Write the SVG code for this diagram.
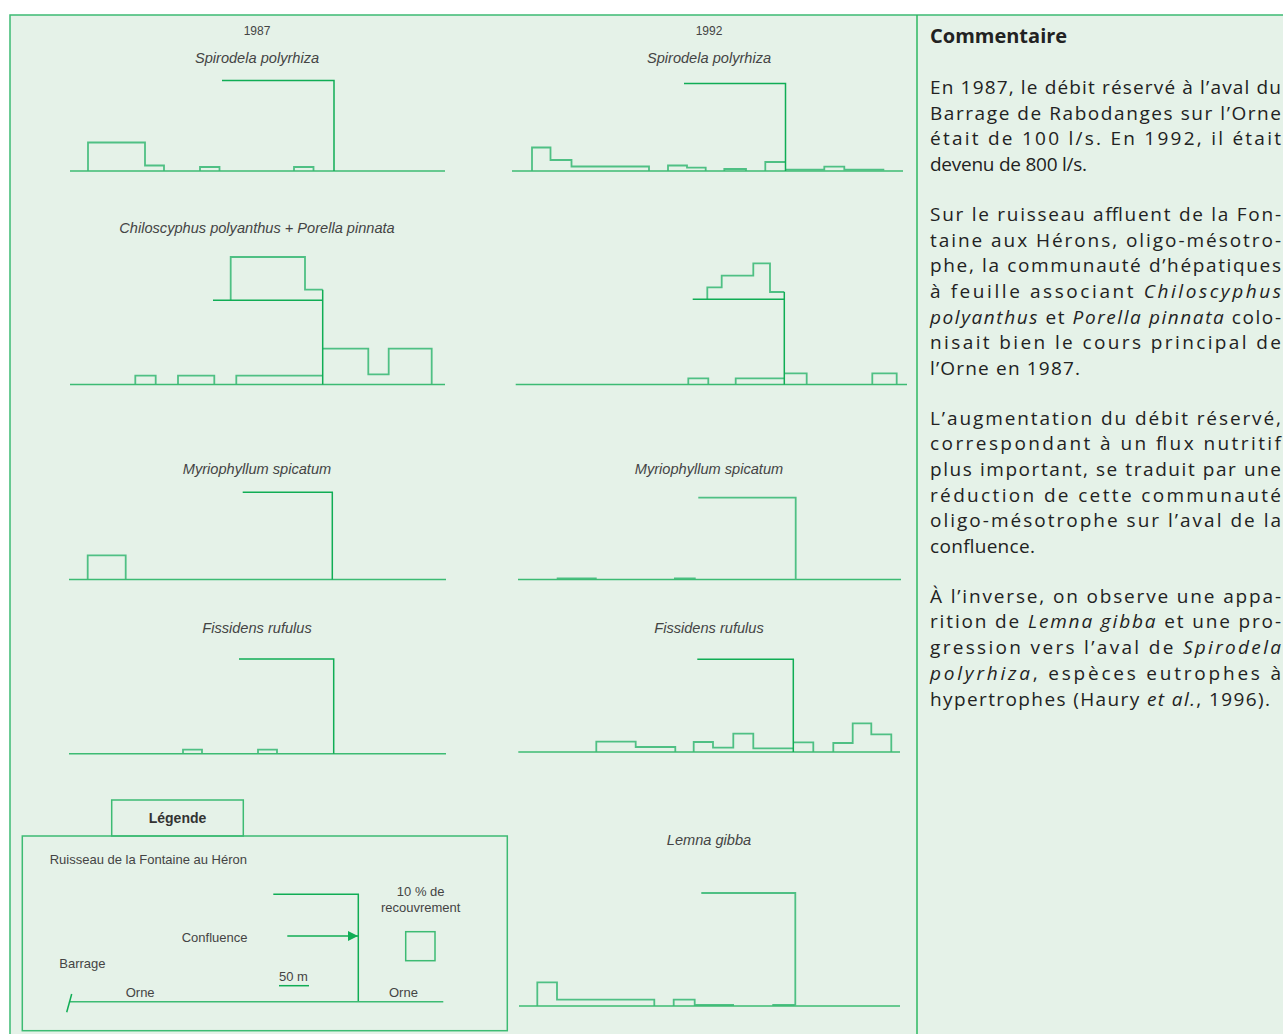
<svg xmlns="http://www.w3.org/2000/svg" width="1283" height="1034" viewBox="0 0 1283 1034">
<defs>
<style>
.frame{fill:#e5f2e8;stroke:#3dbb73;stroke-width:1.5}
.div{stroke:#2db862;stroke-width:1.5}
.base{stroke:#3dbb73;stroke-width:1.6;fill:none}
.ref{stroke:#10ad55;stroke-width:1.5;fill:none}
.hist{stroke:#4fc084;stroke-width:1.8;fill:none}
.yr{font-family:"Liberation Sans",Arial,sans-serif;font-size:12px;fill:#444;text-anchor:middle}
.sp{font-family:"Liberation Sans",Arial,sans-serif;font-size:14.6px;font-style:italic;fill:#444;text-anchor:middle}
.lg{font-family:"Liberation Sans",Arial,sans-serif;font-size:13px;fill:#444}
.lgb{font-family:"Liberation Sans",Arial,sans-serif;font-size:14px;font-weight:bold;fill:#333;text-anchor:middle}
.ct{font-family:"Open Sans","Noto Sans",sans-serif;font-size:19px;fill:#222}
.ch{font-family:"Open Sans","Noto Sans",sans-serif;font-size:20px;font-weight:bold;fill:#222}
.it{font-style:italic}
</style>
<marker id="arr" viewBox="0 0 10 10" refX="10" refY="5" markerWidth="10" markerHeight="10" markerUnits="userSpaceOnUse" orient="auto">
<path d="M0 0 L10 5 L0 10 Z" fill="#10ad55"/>
</marker>
</defs>
<rect x="0" y="0" width="1283" height="1034" fill="#ffffff"/>
<rect class="frame" x="10" y="15" width="1290" height="1030"/>
<line class="div" x1="917" y1="15" x2="917" y2="1034"/>

<g id="labels">
<text class="yr" x="257" y="35">1987</text>
<text class="yr" x="709" y="35">1992</text>
<text class="sp" x="257" y="63">Spirodela polyrhiza</text>
<text class="sp" x="709" y="63">Spirodela polyrhiza</text>
<text class="sp" x="257" y="233">Chiloscyphus polyanthus + Porella pinnata</text>
<text class="sp" x="257" y="474">Myriophyllum spicatum</text>
<text class="sp" x="709" y="474">Myriophyllum spicatum</text>
<text class="sp" x="257" y="633">Fissidens rufulus</text>
<text class="sp" x="709" y="633">Fissidens rufulus</text>
<text class="sp" x="709" y="845">Lemna gibba</text>
</g>

<g id="chart-spirodela-1987">
<path class="hist" d="M88 171 V142.5 H145 V165.5 H164 V171 M200 171 V167 H219.5 V171 M294 171 V167 H313.5 V171"/>
<path class="base" d="M70 171 H445"/>
<path class="ref" d="M222 80.5 H334 V171"/>
</g>
<g id="chart-spirodela-1992">
<path class="hist" d="M532 171 V147.5 H550.5 V160 H571.5 V166.5 H649 V171 M668 171 V165.5 H687 V167.7 H705.7 V171 M724.3 171 V169 H746 V171 M765.3 171 V162 H785.3 M785.3 169.7 H824.3 V166.7 H844.3 V169.7 H884.3"/>
<path class="base" d="M512 171 H903"/>
<path class="ref" d="M684 83.5 H785.5 V171"/>
</g>
<g id="chart-chilo-1987">
<path class="hist" d="M230.7 300.3 V257 H305 V289.7 H322.7 M135.3 384.5 V375.7 H155.7 V384.5 M178 384.5 V375.7 H214.3 V384.5 M236.3 384.5 V375.7 H322.7 M322.7 348.7 H368.3 V374.3 H388.7 V348.7 H431.7 V384.5"/>
<path class="base" d="M70 384.5 H445"/>
<path class="ref" d="M213 300.3 H322.7 M322.7 289.7 V384.5"/>
</g>
<g id="chart-chilo-1992">
<path class="hist" d="M707.3 299.3 V287.3 H721.7 V275.7 H753.3 V263.3 H770 V292 H784.3 M688.3 384.5 V378.3 H708.3 V384.5 M735.7 384.5 V378.3 H784.3 M784.3 373.3 H806.7 V384.5 M872.3 384.5 V373.3 H896.7 V384.5"/>
<path class="base" d="M515.7 384.5 H907"/>
<path class="ref" d="M692.7 299.3 H784.3 M784.3 292 V384.5"/>
</g>
<g id="chart-myrio-1987">
<path class="hist" d="M87.7 579.5 V555.3 H125.7 V579.5"/>
<path class="base" d="M69 579.5 H446"/>
<path class="ref" d="M242.7 492.3 H332.3 V579.5"/>
</g>
<g id="chart-myrio-1992">
<path class="hist" d="M556.7 578.3 H596.7 M674 578.3 H695.7"/>
<path class="base" d="M518 579.5 H901"/>
<path class="hist" d="M698.3 497.7 H795.7 V579.5"/>
</g>
<g id="chart-fissidens-1987">
<path class="hist" d="M183 753.7 V749.7 H202 V753.7 M258 753.7 V749.7 H277 V753.7"/>
<path class="base" d="M69 753.7 H446"/>
<path class="ref" d="M239 659 H333.7 V753.7"/>
</g>
<g id="chart-fissidens-1992">
<path class="hist" d="M596.3 752 V741.7 H635.7 V747 H675.3 V752 M693.7 752 V742 H713 V747.7 H733.3 V733.7 H753.3 V748.3 H793.3 M793.3 742.3 H813.3 V752 M833.3 752 V743 H852.7 V723.3 H871.3 V734.3 H891.3 V752"/>
<path class="base" d="M518.3 752 H900"/>
<path class="ref" d="M697.3 659.3 H793.3 V752"/>
</g>
<g id="chart-lemna-1992">
<path class="hist" d="M537.3 1006 V982.3 H557 V999.7 H654.3 V1006 M673.7 1006 V999.7 H694.7 V1005 H734 M772.3 1005 H795.3"/>
<path class="base" d="M519 1006 H900"/>
<path class="hist" d="M701.3 893 H795.3 V1006"/>
</g>

<g id="legend">
<rect x="111.7" y="800" width="131.6" height="36" fill="#e5f2e8" stroke="#3dbb73" stroke-width="1.5"/>
<rect x="22.3" y="836" width="485" height="194.7" fill="none" stroke="#3dbb73" stroke-width="1.5"/>
<text class="lgb" x="177.5" y="823">Légende</text>
<text class="lg" x="49.7" y="864">Ruisseau de la Fontaine au Héron</text>
<path class="ref" d="M273.3 894.3 H358.3 V1001.7"/>
<path class="base" d="M70 1001.7 H443.3"/>
<path class="ref" d="M71.7 994 L66.7 1012.3"/>
<path class="ref" d="M287.3 936 H358" marker-end="url(#arr)"/>
<text class="lg" x="181.7" y="942">Confluence</text>
<text class="lg" x="59.3" y="968">Barrage</text>
<text class="lg" x="279" y="981">50 m</text>
<path class="ref" d="M279 985.7 H309"/>
<text class="lg" x="125.7" y="997">Orne</text>
<text class="lg" x="389" y="997">Orne</text>
<text class="lg" x="420.7" y="896" text-anchor="middle">10 % de</text>
<text class="lg" x="420.7" y="912" text-anchor="middle">recouvrement</text>
<rect x="405.7" y="931.7" width="29.3" height="29" fill="none" stroke="#3dbb73" stroke-width="1.5"/>
</g>

<g id="commentaire">
<text class="ch" x="930" y="43">Commentaire</text>
<text class="ct" x="930" y="94" textLength="351" lengthAdjust="spacing">En 1987, le débit réservé à l’aval du</text>
<text class="ct" x="930" y="119.5" textLength="351" lengthAdjust="spacing">Barrage de Rabodanges sur l’Orne</text>
<text class="ct" x="930" y="145" textLength="351" lengthAdjust="spacing">était de 100 l/s. En 1992, il était</text>
<text class="ct" x="930" y="171" textLength="157" lengthAdjust="spacing">devenu de 800 l/s.</text>
<text class="ct" x="930" y="221" textLength="351" lengthAdjust="spacing">Sur le ruisseau affluent de la Fon-</text>
<text class="ct" x="930" y="246.5" textLength="351" lengthAdjust="spacing">taine aux Hérons, oligo-mésotro-</text>
<text class="ct" x="930" y="272" textLength="351" lengthAdjust="spacing">phe, la communauté d’hépatiques</text>
<text class="ct" x="930" y="298" textLength="351" lengthAdjust="spacing">à feuille associant <tspan class="it">Chiloscyphus</tspan></text>
<text class="ct" x="930" y="323.5" textLength="351" lengthAdjust="spacing"><tspan class="it">polyanthus</tspan> et <tspan class="it">Porella pinnata</tspan> colo-</text>
<text class="ct" x="930" y="349" textLength="351" lengthAdjust="spacing">nisait bien le cours principal de</text>
<text class="ct" x="930" y="375" textLength="150" lengthAdjust="spacing">l’Orne en 1987.</text>
<text class="ct" x="930" y="424.5" textLength="351" lengthAdjust="spacing">L’augmentation du débit réservé,</text>
<text class="ct" x="930" y="450" textLength="351" lengthAdjust="spacing">correspondant à un flux nutritif</text>
<text class="ct" x="930" y="476" textLength="351" lengthAdjust="spacing">plus important, se traduit par une</text>
<text class="ct" x="930" y="501.5" textLength="351" lengthAdjust="spacing">réduction de cette communauté</text>
<text class="ct" x="930" y="527" textLength="351" lengthAdjust="spacing">oligo-mésotrophe sur l’aval de la</text>
<text class="ct" x="930" y="553" textLength="105" lengthAdjust="spacing">confluence.</text>
<text class="ct" x="930" y="602.5" textLength="351" lengthAdjust="spacing">À l’inverse, on observe une appa-</text>
<text class="ct" x="930" y="628" textLength="351" lengthAdjust="spacing">rition de <tspan class="it">Lemna gibba</tspan> et une pro-</text>
<text class="ct" x="930" y="654" textLength="351" lengthAdjust="spacing">gression vers l’aval de <tspan class="it">Spirodela</tspan></text>
<text class="ct" x="930" y="680" textLength="351" lengthAdjust="spacing"><tspan class="it">polyrhiza</tspan>, espèces eutrophes à</text>
<text class="ct" x="930" y="705.5" textLength="340" lengthAdjust="spacing">hypertrophes (Haury <tspan class="it">et al.</tspan>, 1996).</text>
</g>
</svg>
